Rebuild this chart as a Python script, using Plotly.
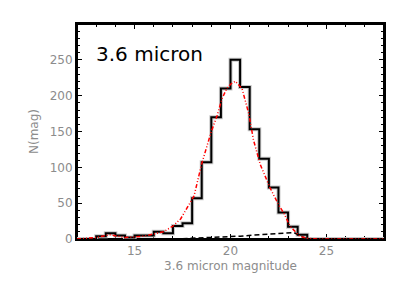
import plotly.graph_objects as go

# Histogram: bin edges (0.5 mag) and counts
bin_edges = [12.0 + 0.5 * i for i in range(33)]  # 12.0 ... 28.0
counts = [0, 0, 4, 8, 5, 2, 5, 5, 10, 8, 18, 22, 57, 107, 170, 210,
          250, 212, 153, 112, 72, 37, 17, 6, 0, 0, 0, 0, 0, 0, 0, 0]

# Red dash-dot model curve
model_x = [12, 12.5, 13, 13.5, 13.75, 14, 14.5, 15, 15.5, 16, 16.5, 17, 17.4,
           17.75, 18.1, 18.5, 19, 19.3, 19.55, 19.8, 20.05, 20.25, 20.6, 20.95,
           21.2, 21.55, 22.05, 22.5, 22.8, 23.1, 23.6, 24, 24.5, 28]
model_y = [0, 0.5, 2, 5, 6, 4.5, 2, 3, 4, 7, 10, 18, 28, 44, 60, 105, 150, 172,
           195, 210, 217, 220, 210, 175, 138, 104, 72, 48, 35, 18, 4, 1, 0, 0]

# Black dashed curve
dash_x = [17.5, 18.5, 19.5, 20.5, 21.5, 22.5, 23.3, 23.6, 24.0]
dash_y = [0.5, 1.5, 2.5, 4, 6, 8, 9, 5, 0]

x_ticks = [15, 20, 25]
y_ticks = [0, 50, 100, 150, 200, 250]

hist_y = counts + [counts[-1]]
FONT = "DejaVu Sans"
GRAY = "#8c8c8c"

fig = go.Figure()
fig.add_trace(go.Scatter(x=bin_edges, y=hist_y, mode="lines",
                         line=dict(shape="hv", color="#c8c8c8", width=4),
                         hoverinfo="skip", showlegend=False))
fig.add_trace(go.Scatter(x=bin_edges, y=hist_y, mode="lines",
                         line=dict(shape="hv", color="black", width=2),
                         showlegend=False))
fig.add_trace(go.Scatter(x=dash_x, y=dash_y, mode="lines",
                         line=dict(color="black", width=1.5, dash="5px,3px"),
                         showlegend=False))
fig.add_trace(go.Scatter(x=model_x, y=model_y, mode="lines",
                         line=dict(color="red", width=1.5,
                                   dash="4px,2px,1px,2px,1px,2px"),
                         showlegend=False))

fig.add_annotation(x=0.058, y=0.862, xref="paper", yref="paper",
                   text="3.6 micron", showarrow=False, borderpad=0,
                   xanchor="left", yanchor="middle",
                   font=dict(family=FONT, size=20, color="black"))

fig.add_shape(type="rect", xref="paper", yref="paper", x0=0, x1=1, y0=0, y1=1,
              line=dict(color="black", width=2), layer="below")

axis_common = dict(showgrid=False, zeroline=False, showline=True,
                   linecolor="black", linewidth=2, mirror="allticks",
                   ticks="inside", tickcolor="black", tickwidth=1,
                   tickfont=dict(family=FONT, size=12, color=GRAY),
                   layer="below traces")

fig.update_xaxes(range=[12, 28], tickvals=x_ticks, ticklen=5,
                 minor=dict(dtick=1, tick0=12, ticks="inside", ticklen=3,
                            tickcolor="black"),
                 title=dict(text="3.6 micron magnitude", standoff=4,
                            font=dict(family=FONT, size=12, color=GRAY)),
                 **axis_common)
fig.update_yaxes(range=[0, 300], tickvals=y_ticks, ticklen=5,
                 minor=dict(dtick=10, tick0=0, ticks="inside", ticklen=3,
                            tickcolor="black"),
                 title=dict(text="N(mag)", standoff=8,
                            font=dict(family=FONT, size=12, color=GRAY)),
                 **axis_common)

# page body has an 8px default margin; compensate so the plot box lands at
# x 77..384, y 24..242 in the window
fig.update_layout(width=391, height=275, margin=dict(l=69, r=15, t=16, b=41),
                  paper_bgcolor="white", plot_bgcolor="white")

fig.write_html("out.html")
